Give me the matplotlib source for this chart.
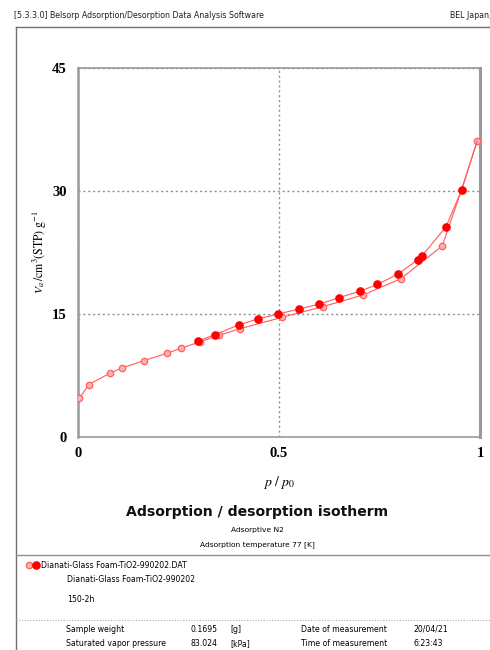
import matplotlib
matplotlib.use("Agg")
import matplotlib.pyplot as plt
from matplotlib.lines import Line2D

plt.rcParams['mathtext.fontset'] = 'stix'

# adsorption branch (open markers)
ads_p = [0.003, 0.027, 0.080, 0.109, 0.163, 0.221, 0.255, 0.303, 0.350, 0.403,
         0.508, 0.609, 0.708, 0.803, 0.906, 0.954, 0.993]
ads_v = [4.7, 6.4, 7.8, 8.4, 9.3, 10.2, 10.8, 11.6, 12.4, 13.2,
         14.6, 15.9, 17.3, 19.3, 23.3, 30.1, 36.1]
# desorption branch (filled markers), starts from the top adsorption point
des_p = [0.993, 0.954, 0.915, 0.856, 0.845, 0.797, 0.745, 0.702, 0.650, 0.600,
         0.549, 0.498, 0.448, 0.401, 0.342, 0.298]
des_v = [36.1, 30.1, 25.6, 22.1, 21.6, 19.9, 18.6, 17.8, 17.0, 16.2,
         15.6, 15.0, 14.4, 13.7, 12.5, 11.7]

x_ticks = [0, 0.5, 1]
x_ticklabels = ['0', '0.5', '1']
y_ticks = [0, 15, 30, 45]

sample_name = 'Dianati-Glass Foam-TiO2-990202'
info_rows = [('Sample weight', '0.1695', '[g]', 'Date of measurement', '20/04/21'),
             ('Saturated vapor pressure', '83.024', '[kPa]', 'Time of measurement', '6:23:43')]

W, H = 490, 650
fig = plt.figure(figsize=(W / 100, H / 100), dpi=100)
ax = fig.add_axes([78 / W, 1 - 437 / H, 402 / W, 369 / H])

red = '#ff0000'
line_col = '#ff5a5a'
ax.plot(ads_p, ads_v, color=line_col, lw=0.8, marker='o', ms=4.6,
        mfc='#ffb0b0', mec='#ff6060', mew=0.9, zorder=3)
ax.plot(des_p, des_v, color=line_col, lw=0.8, marker='o', ms=5.2,
        mfc=red, mec=red, markevery=list(range(1, len(des_p))), zorder=4)

ax.set_xlim(0, 1)
ax.set_ylim(0, 45)
ax.set_xticks(x_ticks)
ax.set_xticklabels(x_ticklabels)
ax.set_yticks(y_ticks)
ax.tick_params(length=0, labelsize=10.5, pad=8)
ax.tick_params(axis='x', pad=7)
for lab in ax.get_xticklabels() + ax.get_yticklabels():
    lab.set_fontfamily('Liberation Serif')
    lab.set_fontweight('bold')
ax.grid(True, linestyle=(0, (1.5, 2)), color='#909090', lw=1.0)
for s in ax.spines.values():
    s.set_color('#9a9a9a')
    s.set_linewidth(1.2)
ax.spines['right'].set_linewidth(2.2)
ax.spines['left'].set_linewidth(1.8)

ax.set_xlabel(r'$p\ /\ p_0$', fontsize=10, labelpad=10)
ax.set_ylabel(r'$V_a\,/\mathrm{cm^3(STP)\ g^{-1}}$', fontsize=8.5, labelpad=2)

# page frame
sans = 'DejaVu Sans'
fig.add_artist(Line2D([16 / W, 1], [1 - 27 / H] * 2, color='#707070', lw=1.0))
fig.add_artist(Line2D([16 / W] * 2, [1 - 27 / H, 0], color='#707070', lw=1.0))
fig.add_artist(Line2D([16 / W, 1], [1 - 555 / H] * 2, color='#909090', lw=1.0))
fig.add_artist(Line2D([16 / W, 1], [1 - 620 / H] * 2, color='#b0b0b0', lw=0.8,
                      linestyle=(0, (1, 1.5))))

fig.text(14 / W, 1 - 16 / H, '[5.3.3.0] Belsorp Adsorption/Desorption Data Analysis Software',
         fontsize=5.65, family=sans, va='center', ha='left', color='#202020')
fig.text(450 / W, 1 - 16 / H, 'BEL Japan, Inc.', fontsize=5.65, family=sans,
         va='center', ha='left', color='#202020')

fig.text(257 / W, 1 - 512 / H, 'Adsorption / desorption isotherm', fontsize=10.1,
         family=sans, weight='bold', ha='center', va='center', color='#111111')
fig.text(257 / W, 1 - 530 / H, 'Adsorptive N2', fontsize=5.4, family=sans,
         ha='center', va='center')
fig.text(257 / W, 1 - 545 / H, 'Adsorption temperature 77 [K]', fontsize=5.4, family=sans,
         ha='center', va='center')

# legend entry
fig.add_artist(Line2D([29 / W], [1 - 565 / H], marker='o', ms=4.6, mfc='#ffb0b0',
                      mec='#ff6060', mew=0.9, lw=0))
fig.add_artist(Line2D([36 / W], [1 - 565 / H], marker='o', ms=5.2, mfc=red, mec=red, lw=0))
fig.text(41 / W, 1 - 565 / H, sample_name + '.DAT', fontsize=5.6, family=sans,
         ha='left', va='center')
fig.text(67 / W, 1 - 579 / H, sample_name, fontsize=5.6, family=sans, ha='left', va='center')
fig.text(67 / W, 1 - 599 / H, '150-2h', fontsize=5.6, family=sans, ha='left', va='center')

col_x = [66, 190, 230, 301, 413]
for i, row in enumerate(info_rows):
    y = 1 - (629 + 15 * i) / H
    for cx, txt in zip(col_x, row):
        fig.text(cx / W, y, txt, fontsize=5.6, family=sans, ha='left', va='center')

fig.savefig('out.png', dpi=100)
